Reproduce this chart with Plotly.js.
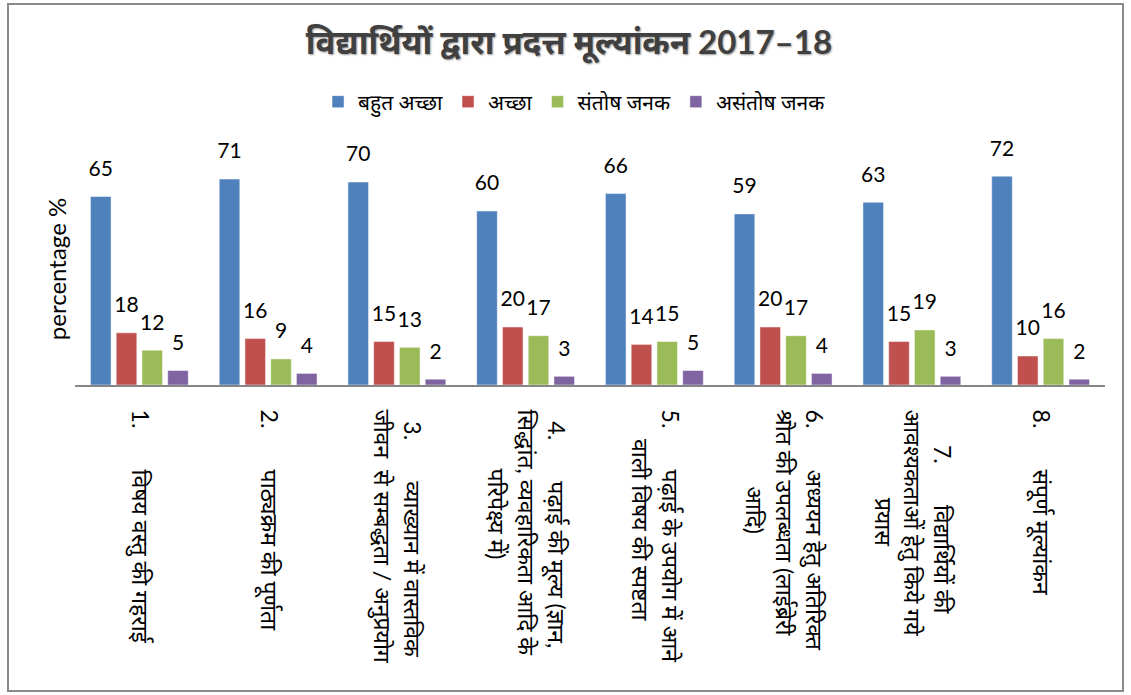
<!DOCTYPE html>
<html>
<head>
<meta charset="utf-8">
<script src="https://cdn.plot.ly/plotly-3.0.1.min.js"></script>
<style>
  html, body { margin: 0; padding: 0; background: #fff; }
  #wrap { position: relative; width: 1131px; height: 695px; }
  #chart { position: absolute; left: 0; top: 0; width: 1131px; height: 695px; }
  #frame { position: absolute; left: 7px; top: 3px; width: 1117px; height: 689px;
           border: 2px solid #8a8a8a; box-sizing: border-box; pointer-events: none; }
</style>
</head>
<body>
<div id="wrap"><div id="chart"></div><div id="frame"></div></div>
<script>
const NB = '\u00a0';
const pad = n => NB.repeat(n);

const categories = [
  '1.' + pad(7) + 'विषय वस्तु की गहराई',
  '2.' + pad(7) + 'पाठ्यक्रम की पूर्णता',
  pad(2) + '3.' + pad(7) + 'व्याख्यान में वास्तविक<br>जीवन' + pad(2) + 'से सम्बद्धता / अनुप्रयोग',
  pad(2) + '4.' + pad(7) + 'पढ़ाई की मूल्य (ज्ञान,<br>सिद्धांत, व्यवहारिकता आदि के<br>' + pad(10) + 'परिपेक्ष्य में)',
  '5.' + pad(7) + 'पढ़ाई के उपयोग में आने<br>' + pad(5) + 'वाली विषय की स्पष्टता',
  '6.' + pad(7) + 'अध्ययन हेतु अतिरिक्त<br>श्रोत की उपलब्धता (लाईब्रेरी<br>' + pad(13) + 'आदि)',
  pad(6) + '7.' + pad(7) + 'विद्यार्थियों की<br>आवश्यकताओं हेतु किये गये<br>' + pad(15) + 'प्रयास',
  '8.' + pad(7) + 'संपूर्ण मूल्यांकन'
];

const seriesNames = ['बहुत अच्छा', 'अच्छा', 'संतोष जनक', 'असंतोष जनक'];
const veryGood = [65, 71, 70, 60, 66, 59, 63, 72];
const good = [18, 16, 15, 20, 14, 20, 15, 10];
const satisfactory = [12, 9, 13, 17, 15, 17, 19, 16];
const unsatisfactory = [5, 4, 2, 3, 5, 4, 3, 2];

const seriesValues = [veryGood, good, satisfactory, unsatisfactory];
const colors = ['#4F81BD', '#C0504D', '#9BBB59', '#8064A2'];

const FONT = 'Lato, "Noto Sans", "Noto Sans Devanagari", sans-serif';

const traces = [];
seriesValues.forEach((vals, i) => {
  traces.push({
    type: 'bar', name: seriesNames[i], x: categories, y: vals,
    marker: { color: colors[i], line: { color: 'rgba(255,255,255,0.6)', width: 0.8 } },
    hoverinfo: 'y'
  });
});
// data labels, grouped like the bars (invisible marker lifts the text)
seriesValues.forEach((vals, i) => {
  traces.push({
    type: 'scatter', mode: 'markers+text', x: categories, y: vals,
    text: vals.map(String), textposition: 'top center',
    textfont: { family: FONT, size: 21, color: '#000' },
    marker: { size: 23, opacity: 0, color: colors[i] },
    showlegend: false, hoverinfo: 'skip', cliponaxis: false
  });
});

const layout = {
  width: 1131, height: 695,
  margin: { l: 75, r: 26, t: 153, b: 310 },
  paper_bgcolor: '#fff', plot_bgcolor: '#fff',
  font: { family: FONT, color: '#000' },
  title: {
    text: '<b>विद्यार्थियों द्वारा प्रदत्त मूल्यांकन 2017–18</b>',
    font: { family: FONT, size: 33, color: '#404040', shadow: '1px 1px 2px #9a9a9a' },
    xref: 'container', x: 0.503, xanchor: 'center',
    yref: 'container', y: 1 - 42 / 695, yanchor: 'middle'
  },
  barmode: 'group', bargap: 0.2, bargroupgap: 0.2,
  scattermode: 'group', scattergap: 0.2,
  showlegend: true,
  legend: {
    orientation: 'h', xref: 'container', yref: 'container',
    x: 0.508, xanchor: 'center', y: 1 - 102 / 695, yanchor: 'middle',
    font: { family: FONT, size: 21, color: '#000' },
    itemwidth: 30, tracegroupgap: 0, traceorder: 'normal'
  },
  xaxis: {
    type: 'category', tickangle: 90, showgrid: false, zeroline: false,
    showline: true, linecolor: '#868686', linewidth: 2, ticks: '',
    tickfont: { family: FONT, size: 23, color: '#000' },
    ticklabelstandoff: 18, automargin: false
  },
  yaxis: {
    range: [0, 80], showgrid: false, zeroline: false, showline: false,
    showticklabels: false, ticks: '',
    title: { text: 'percentage %', font: { family: FONT, size: 24, color: '#000' }, standoff: 0 },
    automargin: false
  }
};

Plotly.newPlot('chart', traces, layout, { displayModeBar: false, staticPlot: true });
</script>
</body>
</html>
